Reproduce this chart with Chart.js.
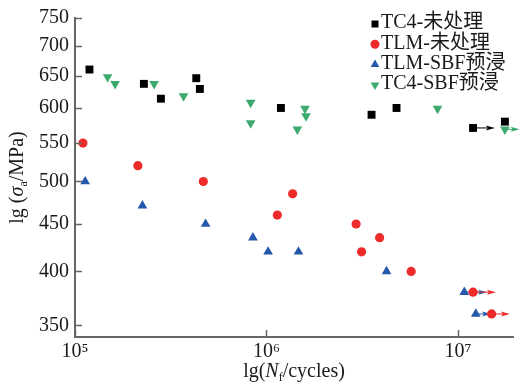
<!DOCTYPE html>
<html>
<head>
<meta charset="utf-8">
<script src="https://cdn.jsdelivr.net/npm/chart.js"></script>
<style>
  body { margin: 0; background: #fff; }
  canvas { display: block; }
</style>
</head>
<body>
<canvas id="snChart" width="521" height="385"></canvas>
<script>
// S-N data (cycles, stress amplitude in MPa)
const seriesNames = ['TC4-未处理', 'TLM-未处理', 'TLM-SBF预浸', 'TC4-SBF预浸'];
const seriesColors = ['#000000', '#ee2b2b', '#2458ab', '#3caa6f'];

const tc4RawN = [1.19e5, 2.29e5, 2.81e5, 4.30e5, 4.49e5, 1.19e6, 3.54e6, 4.78e6, 1.20e7, 1.76e7];
const tc4RawS = [660, 637, 614, 646, 629, 600, 590, 600, 571, 580];

const tlmRawN = [1.10e5, 2.13e5, 4.68e5, 1.14e6, 1.37e6, 2.94e6, 3.14e6, 3.90e6, 5.70e6, 1.20e7, 1.50e7];
const tlmRawS = [550, 520, 500, 460, 485, 450, 420, 435, 400, 380, 360];

const tlmSbfN = [1.13e5, 2.25e5, 4.81e5, 8.50e5, 1.02e6, 1.47e6, 4.24e6, 1.08e7, 1.24e7];
const tlmSbfS = [500, 471, 450, 435, 420, 420, 400, 380, 360];

const tc4SbfN = [1.48e5, 1.62e5, 2.59e5, 3.69e5, 8.27e5, 8.27e5, 1.45e6, 1.59e6, 1.61e6, 7.83e6, 1.76e7];
const tc4SbfS = [648, 637, 637, 618, 608, 578, 569, 599, 588, 599, 569];

// run-out arrows (start N, end N, stress, series index)
const arrowFromN = [1.20e7, 1.76e7, 1.08e7, 1.20e7, 1.24e7, 1.50e7];
const arrowToN   = [1.56e7, 2.10e7, 1.42e7, 1.58e7, 1.49e7, 1.87e7];
const arrowS     = [571, 569, 380, 380, 360, 360];
const arrowSeries = [0, 3, 2, 1, 2, 1];

const xTicks = [1e5, 1e6, 1e7];
const xTickLabels = ['10⁵', '10⁶', '10⁷'];
const yTicks = [350, 400, 450, 500, 550, 600, 650, 700, 750];

const FONT = '"Liberation Serif", "Times New Roman", "Noto Sans CJK SC", serif';
const AXIS = '#666666';
const TEXT = '#1a1a1a';

function pts(xs, ys) {
  return xs.map((x, i) => ({ x: x, y: ys[i] }));
}

function drawMarker(ctx, style, x, y, r, color) {
  ctx.save();
  ctx.fillStyle = color;
  ctx.beginPath();
  if (style === 'rect') {
    ctx.rect(x - r, y - r, 2 * r, 2 * r);
  } else if (style === 'circle') {
    ctx.arc(x, y, r, 0, Math.PI * 2);
  } else {
    const d = style === 'down' ? -1 : 1;
    ctx.moveTo(x, y - d * r);
    ctx.lineTo(x + r * 0.87, y + d * r * 0.5);
    ctx.lineTo(x - r * 0.87, y + d * r * 0.5);
    ctx.closePath();
  }
  ctx.fill();
  ctx.restore();
}

// text made of pieces (normal, italic, subscript)
function drawRich(ctx, parts, cx, cy, size) {
  let total = 0;
  parts.forEach(p => {
    ctx.font = (p.it ? 'italic ' : '') + Math.round(size * (p.sub ? 0.62 : 1)) + 'px ' + FONT;
    p.w = ctx.measureText(p.t).width;
    total += p.w;
  });
  let x = cx - total / 2;
  parts.forEach(p => {
    ctx.font = (p.it ? 'italic ' : '') + Math.round(size * (p.sub ? 0.62 : 1)) + 'px ' + FONT;
    ctx.fillText(p.t, x, cy + (p.sub ? size * 0.3 : 0));
    x += p.w;
  });
}

const extras = {
  id: 'extras',
  beforeDatasetsDraw(chart) {
    const ctx = chart.ctx, xs = chart.scales.x, ys = chart.scales.y;
    ctx.save();
    arrowFromN.forEach((n0, i) => {
      const x0 = xs.getPixelForValue(n0);
      const x1 = xs.getPixelForValue(arrowToN[i]);
      const y = ys.getPixelForValue(arrowS[i]);
      const c = seriesColors[arrowSeries[i]];
      ctx.strokeStyle = c;
      ctx.fillStyle = c;
      ctx.lineWidth = 1;
      ctx.beginPath();
      ctx.moveTo(x0, y);
      ctx.lineTo(x1 - 6, y);
      ctx.stroke();
      ctx.beginPath();
      ctx.moveTo(x1, y);
      ctx.lineTo(x1 - 9, y - 2.5);
      ctx.lineTo(x1 - 7, y);
      ctx.lineTo(x1 - 9, y + 2.5);
      ctx.closePath();
      ctx.fill();
    });
    ctx.restore();
  },
  afterDraw(chart) {
    const ctx = chart.ctx, area = chart.chartArea;
    const xs = chart.scales.x, ys = chart.scales.y;
    ctx.save();
    // inward tick marks
    ctx.strokeStyle = AXIS;
    ctx.lineWidth = 1.5;
    yTicks.forEach(v => {
      const py = Math.round(ys.getPixelForValue(v)) + 0.5;
      ctx.beginPath();
      ctx.moveTo(area.left, py);
      ctx.lineTo(area.left + 7, py);
      ctx.stroke();
    });
    xTicks.forEach(v => {
      const px = Math.round(xs.getPixelForValue(v)) + 0.5;
      ctx.beginPath();
      ctx.moveTo(px, area.bottom);
      ctx.lineTo(px, area.bottom - 7);
      ctx.stroke();
    });

    // axis titles
    ctx.fillStyle = TEXT;
    ctx.textBaseline = 'middle';
    ctx.textAlign = 'left';
    drawRich(ctx, [{ t: 'lg(' }, { t: 'N', it: true }, { t: 'f', sub: true }, { t: '/cycles)' }],
      (area.left + area.right) / 2, 372, 20);
    ctx.save();
    ctx.translate(18, (area.top + area.bottom) / 2);
    ctx.rotate(-Math.PI / 2);
    drawRich(ctx, [{ t: 'lg (' }, { t: 'σ', it: true }, { t: 'a', sub: true }, { t: '/MPa)' }], 0, 0, 20);
    ctx.restore();

    // legend
    const styles = ['rect', 'circle', 'up', 'down'];
    const sizes = [3.5, 4.5, 5, 5];
    ctx.font = '20px ' + FONT;
    seriesNames.forEach((name, i) => {
      const y = 23 + i * 20.3;
      drawMarker(ctx, styles[i], 375, y + 1, sizes[i], seriesColors[i]);
      ctx.fillStyle = TEXT;
      ctx.fillText(name, 381, y);
    });
    ctx.restore();
  }
};

function scaleOpts(ticks, labels, min, max, isY) {
  return {
    type: 'logarithmic',
    min: min,
    max: max,
    grid: { display: false, drawTicks: false },
    border: { display: true, color: AXIS, width: 2 },
    ticks: {
      autoSkip: false,
      maxRotation: 0,
      padding: isY ? 6 : 3,
      color: TEXT,
      font: { family: FONT, size: 20 },
      callback: (v) => labels ? labels[ticks.indexOf(v)] : String(v)
    },
    afterBuildTicks: (s) => { s.ticks = ticks.map(v => ({ value: v })); },
    afterFit: (s) => { if (isY) s.width = 75; else s.height = 48; }
  };
}

const shapes = ['rect', 'circle', 'triangle', 'triangle'];
const radii = [5.6, 4.6, 5.6, 5.6];
const seriesData = [pts(tc4RawN, tc4RawS), pts(tlmRawN, tlmRawS), pts(tlmSbfN, tlmSbfS), pts(tc4SbfN, tc4SbfS)];

new Chart(document.getElementById('snChart'), {
  type: 'scatter',
  data: {
    datasets: seriesNames.map((name, i) => ({
      label: name,
      data: seriesData[i],
      pointStyle: shapes[i],
      rotation: i === 3 ? 180 : 0,
      pointRadius: radii[i],
      pointHoverRadius: radii[i],
      backgroundColor: seriesColors[i],
      borderColor: seriesColors[i],
      borderWidth: 0,
      clip: false
    }))
  },
  options: {
    responsive: false,
    animation: false,
    layout: { padding: { top: 17, right: 8, bottom: 0, left: 0 } },
    plugins: { legend: { display: false }, tooltip: { enabled: false } },
    scales: {
      x: scaleOpts(xTicks, xTickLabels, 1e5, 1.94e7, false),
      y: scaleOpts(yTicks, null, 340, 750, true)
    }
  },
  plugins: [extras]
});
</script>
</body>
</html>
